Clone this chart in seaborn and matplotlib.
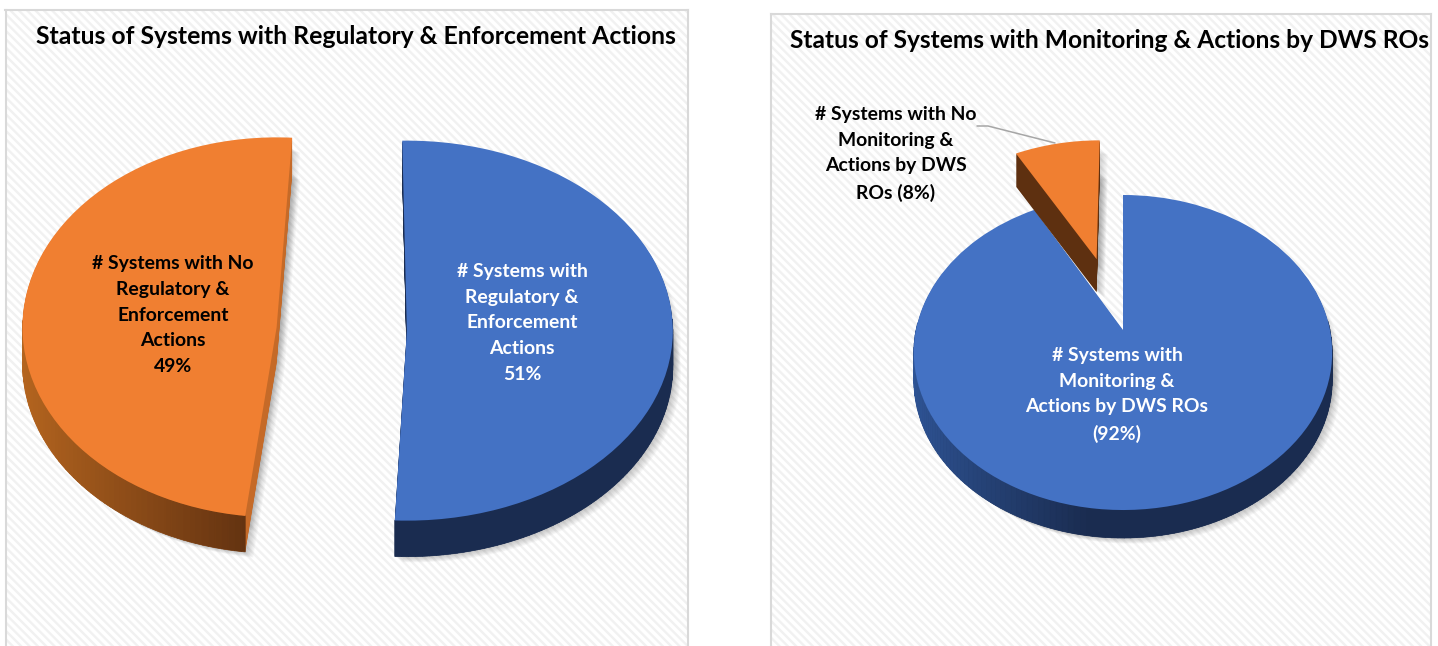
import numpy as np
import matplotlib
matplotlib.use("Agg")
import matplotlib.pyplot as plt
import seaborn as sns
from matplotlib.patches import Wedge
from matplotlib.collections import PolyCollection
from matplotlib.colors import LinearSegmentedColormap
from matplotlib.lines import Line2D
from matplotlib.transforms import Transform, Affine2D

W, H = 1438, 646

# ---- data ----
left_title = "Status of Systems with Regulatory & Enforcement Actions"
left_labels = ["# Systems with\nRegulatory &\nEnforcement\nActions\n51%",
               "# Systems with No\nRegulatory &\nEnforcement\nActions\n49%"]
left_values = [51, 49]
right_title = "Status of Systems with Monitoring & Actions by DWS ROs"
right_labels = ["# Systems with\nMonitoring &\nActions by DWS ROs\n(92%)",
                "# Systems with No\nMonitoring &\nActions by DWS\nROs (8%)"]
right_values = [92, 8]

BLUE, ORANGE = "#4472C4", "#F07F31"

sns.set_theme(style="white")
plt.rcParams["font.family"] = ["Lato", "DejaVu Sans"]
plt.rcParams["hatch.linewidth"] = 1.7
plt.rcParams["hatch.color"] = "#f1f1f1"
palette = sns.color_palette([BLUE, ORANGE])


class Persp(Transform):
    """Projective map of the pie plane, giving the tilted-disc look."""
    input_dims = output_dims = 2
    is_separable = False
    has_inverse = False

    def __init__(self, k):
        super().__init__()
        self.k = k

    def transform_non_affine(self, values):
        xy = np.asarray(values, dtype=float)
        w = 1 + self.k * xy[:, 1]
        return np.column_stack([xy[:, 0] / w, xy[:, 1] / w])


fig = plt.figure(figsize=(W / 100, H / 100), dpi=100, facecolor="white")


def panel(box, centre, a, b, values, explode, startangle, k, depth, specs):
    x0, x1, y0 = box
    cx, cy = centre
    ax = fig.add_axes([x0 / W, 0, (x1 - x0) / W, 1 - y0 / H])
    ax.set_facecolor("white")
    wedges, _ = ax.pie(values, colors=palette, explode=explode, startangle=startangle,
                       counterclock=False, frame=True,
                       wedgeprops=dict(linewidth=0))
    ax.set_aspect("auto")
    ax.set_xlim(-(cx - x0) / a, (x1 - cx) / a)
    ax.set_ylim(-(H - cy) / b, (cy - y0) / b)
    ax.set_xticks([]); ax.set_yticks([])
    ax.patch.set_hatch("\\\\\\\\")
    ax.patch.set_edgecolor("#f1f1f1")
    for name, s in ax.spines.items():
        s.set_visible(name != "bottom")
        s.set_color("#d9d9d9")
        s.set_linewidth(1.5)

    px, py = 1 / a, 1 / b
    persp = Persp(k)
    base = 1
    for w, d, spec in zip(wedges, depth, specs):
        c, r, t1, t2 = w.center, w.r, w.theta1, w.theta2
        pre = (Affine2D().translate(-c[0], -c[1]).rotate_deg(spec.get("rot", 0))
               .scale(spec.get("sx", 1), 1)
               .translate(c[0] + spec.get("dx", 0) * px, c[1] + spec.get("dy", 0) * py))
        w.set_transform(pre + persp + ax.transData)
        w.set_zorder(base + 3)

        def copy(dx, dy, color, alpha, z):
            ax.add_patch(Wedge(c, r, t1, t2, facecolor=color, alpha=alpha, linewidth=0, zorder=z,
                               transform=pre + persp + Affine2D().translate(dx, dy) + ax.transData))
        # soft shadow
        for i in range(1, 9):
            copy(i * px, -(d + i * 0.7) * py, "#555555", 0.045, base)
            copy(i * px, -(i * 0.5 + d * 0.3) * py, "#555555", 0.03, base)
        # body and cut faces
        for j in np.arange(d, 0, -1.0):
            copy(0, -j * py, spec["cut"], 1, base + 1)
        # outer wall with gradient along the rim
        cmap = LinearSegmentedColormap.from_list("wall", spec["wall"])
        ang = np.radians(np.arange(t1, t2 + 1.5, 1.5))
        ang[-1] = min(ang[-1], np.radians(t2))
        pts = pre.transform(np.column_stack([c[0] + r * np.cos(ang), c[1] + r * np.sin(ang)]))
        P = persp.transform_non_affine(pts)
        X, Y = P[:, 0], P[:, 1]
        quads, cols = [], []
        for i in range(len(ang) - 1):
            if np.sin(ang[i] + np.radians(spec.get("rot", 0))) > 0.05:
                continue
            quads.append([(X[i], Y[i]), (X[i + 1], Y[i + 1]),
                          (X[i + 1], Y[i + 1] - d * py), (X[i], Y[i] - d * py)])
            cols.append(cmap(np.clip((np.cos(ang[i]) + 1) / spec["span"], 0, 1)))
        if quads:
            ax.add_collection(PolyCollection(quads, facecolors=cols, edgecolors=cols,
                                             linewidths=0.5, zorder=base + 2))
        base += 4
    return ax


panel((5.5, 688, 10), (346, 328), 262, 190, left_values, [0.24, 0.24], 91, 0.0,
      [36, 36],
      [dict(cut="#1a2c50", wall=["#1a2c50", "#1a2c50"], span=2, dy=-2, dx=-2, sx=1.015),
       dict(cut="#c56a28", wall=["#b5651f", "#5f3010"], span=1.0, rot=-4.5, sx=0.97, dx=-6.5)])

panel((771, 1431, 14), (1123, 330), 207, 154.3, right_values, [0.0, 0.49], 90, 1 / 7,
      [28, 33],
      [dict(cut="#1a2c50", wall=["#2f5597", "#1a2c50"], span=0.85),
       dict(cut="#5e3010", wall=["#5e3010", "#5e3010"], span=2, dx=-3, dy=2.5)])


def label(x, y, s, color="black", size=13.95):
    fig.text(x / W, 1 - y / H, s, color=color, fontsize=size, fontweight="bold",
             ha="center", va="center", linespacing=1.62, zorder=20)


label(356, 37, left_title, size=17.85)
label(1109, 41, right_title, size=17.62)
label(173, 315, left_labels[1])
label(522, 323, left_labels[0], color="white")
label(1117, 395, right_labels[0], color="white")
label(896, 154, right_labels[1])

fig.add_artist(Line2D(np.array([977, 988, 1055]) / W, 1 - np.array([126, 126, 143]) / H,
                      color="#a6a6a6", lw=1.1, zorder=15))

fig.savefig("out.png", dpi=100)
